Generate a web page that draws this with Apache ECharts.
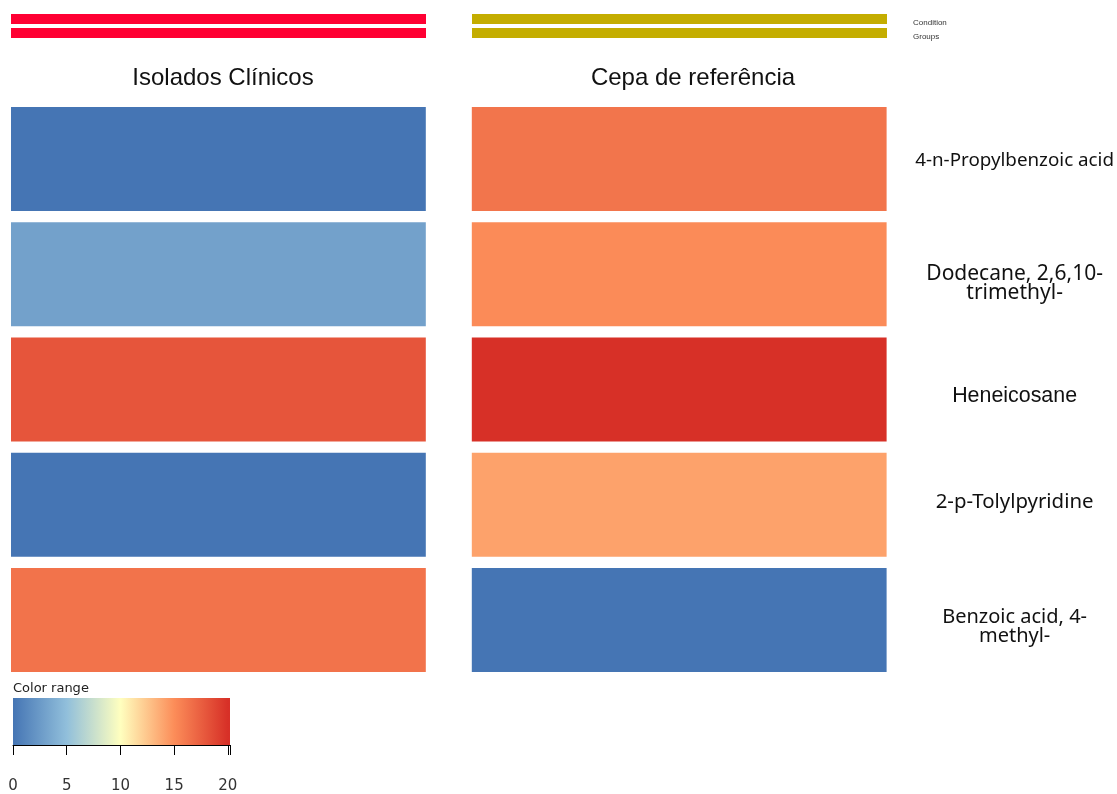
<!DOCTYPE html>
<html>
<head>
<meta charset="utf-8">
<script src="https://cdn.jsdelivr.net/npm/echarts@6/dist/echarts.min.js"></script>
<style>
  html, body { margin: 0; padding: 0; background: #fff; }
  #chart { width: 1117px; height: 794px; }
</style>
</head>
<body>
<div id="chart"></div>
<script>
// Column groups and compounds
const conditions = ['Isolados Clínicos', 'Cepa de referência'];
const compounds = [
  '4-n-Propylbenzoic acid',
  'Dodecane, 2,6,10-\ntrimethyl-',
  'Heneicosane',
  '2-p-Tolylpyridine',
  'Benzoic acid, 4-\nmethyl-'
];
// Heatmap values per column
const valuesIsolados = [0, 3, 18, 0, 16.4];
const valuesCepa = [16.3, 15.1, 20, 14.1, 0];

// Annotation tracks shown above the heatmap
const annotationRows = ['Condition', 'Groups'];
const annotationColors = ['#ff0033', '#c4ad00'];

// Colour scale
const scaleMin = 0;
const scaleMax = 20;
const legendMax = 20.2;
const legendTicks = [0, 5, 10, 15, 20];
const scaleColors = ['#4575b4', '#91bfdb', '#ffffbf', '#fc8d59', '#d73027'];

// Row label typography (size, family, vertical nudge in px)
const labelSizes = [18.8, 21, 21.4, 20.4, 20];
const labelFonts = ['Noto Sans', 'Noto Sans', 'Liberation Sans', 'Noto Sans', 'Noto Sans'];
const labelNudge = [2, 9, 7, -3, 7];

const heatData = [];
compounds.forEach((c, r) => {
  heatData.push([0, r, valuesIsolados[r]]);
  heatData.push([1, r, valuesCepa[r]]);
});
const annData = [];
annotationRows.forEach((a, r) => {
  conditions.forEach((c, i) => annData.push([i, r, i]));
});

// Rich styles: one text style per row plus a thin spacer line that shifts the block
const LINE_H = 19.5;
const rowRich = {};
compounds.forEach((c, i) => {
  rowRich['t' + i] = {
    fontSize: labelSizes[i], fontFamily: labelFonts[i], color: '#111', lineHeight: LINE_H
  };
  rowRich['s' + i] = {
    fontSize: 1, lineHeight: Math.max(1, 2 * Math.abs(labelNudge[i])), color: 'rgba(0,0,0,0)'
  };
});
function rowLabel(value, index) {
  const lines = value.split('\n').map(line => '{t' + index + '|' + line + '}');
  const spacer = '{s' + index + '| }';
  if (labelNudge[index] > 0) lines.unshift(spacer);
  else if (labelNudge[index] < 0) lines.push(spacer);
  return lines.join('\n');
}

const chart = echarts.init(document.getElementById('chart'), null, { renderer: 'canvas' });

const COL_GAP = 46;
const ROW_GAP = 11.2;
const nCols = conditions.length;

// Cell rectangle inside its band: outer cells flush with the grid edge, fixed gap between columns
function cellRect(api, rowGap) {
  const i = api.value(0);
  const c = api.coord([i, api.value(1)]);
  const s = api.size([1, 1]);
  const w = s[0] - COL_GAP * (nCols - 1) / nCols;
  const x = c[0] - s[0] / 2 + i * COL_GAP / nCols;
  const h = s[1] - rowGap;
  return { x: x, y: c[1] - h / 2, width: w, height: h };
}

const option = {
  animation: false,
  backgroundColor: '#ffffff',
  grid: [
    { left: 11, width: 876, top: 101.5, height: 576 },
    { left: 11, width: 876, top: 12, height: 28 },
    { left: 13, width: 217, top: 698, height: 47 }
  ],
  xAxis: [
    { gridIndex: 0, type: 'category', data: conditions, show: false },
    { gridIndex: 1, type: 'category', data: conditions, show: false },
    {
      gridIndex: 2, type: 'value', min: 0, max: legendMax, interval: 5,
      position: 'bottom',
      splitLine: { show: false },
      axisLine: { show: true, lineStyle: { color: '#000', width: 1 } },
      axisTick: { show: true, length: 10, lineStyle: { color: '#000' } },
      axisLabel: {
        margin: 34, color: '#333', fontSize: 15, fontFamily: 'DejaVu Sans',
        formatter: v => legendTicks.indexOf(v) >= 0 ? String(v) : ''
      }
    }
  ],
  yAxis: [
    {
      gridIndex: 0, type: 'category', data: compounds, inverse: true, position: 'right',
      axisLine: { show: false }, axisTick: { show: false },
      axisLabel: { margin: 128, align: 'center', formatter: rowLabel, rich: rowRich }
    },
    {
      gridIndex: 1, type: 'category', data: annotationRows, inverse: true, position: 'right',
      axisLine: { show: false }, axisTick: { show: false },
      axisLabel: { margin: 26, verticalAlign: 'top', color: '#333', fontSize: 8, fontFamily: 'Liberation Sans' }
    },
    { gridIndex: 2, type: 'value', min: 0, max: 1, show: false }
  ],
  visualMap: {
    show: false,
    type: 'continuous',
    seriesIndex: 0,
    dimension: 2,
    min: scaleMin,
    max: scaleMax,
    inRange: { color: scaleColors }
  },
  series: [
    {
      type: 'custom',
      xAxisIndex: 0, yAxisIndex: 0,
      data: heatData,
      encode: { x: 0, y: 1 },
      renderItem: function (params, api) {
        return { type: 'rect', shape: cellRect(api, ROW_GAP), style: { fill: api.visual('color') } };
      }
    },
    {
      type: 'custom',
      xAxisIndex: 1, yAxisIndex: 1,
      data: annData,
      encode: { x: 0, y: 1 },
      renderItem: function (params, api) {
        return { type: 'rect', shape: cellRect(api, 4), style: { fill: annotationColors[api.value(2)] } };
      }
    },
    {
      type: 'custom',
      xAxisIndex: 2, yAxisIndex: 2,
      data: [[scaleMin, legendMax]],
      renderItem: function (params, api) {
        const p0 = api.coord([api.value(0), 1]);
        const p1 = api.coord([api.value(1), 0]);
        const stops = scaleColors.map((col, i) => ({
          offset: Math.min(1, (i * (scaleMax - scaleMin) / (scaleColors.length - 1)) / legendMax),
          color: col
        }));
        return {
          type: 'rect',
          shape: { x: p0[0], y: p0[1], width: p1[0] - p0[0], height: p1[1] - p0[1] },
          style: { fill: new echarts.graphic.LinearGradient(0, 0, 1, 0, stops) }
        };
      }
    }
  ],
  graphic: [
    {
      type: 'text', x: 223, y: 78,
      style: { text: conditions[0], align: 'center', verticalAlign: 'middle',
               font: '24px "Liberation Sans"', fill: '#111' }
    },
    {
      type: 'text', x: 693, y: 78,
      style: { text: conditions[1], align: 'center', verticalAlign: 'middle',
               font: '24px "Liberation Sans"', fill: '#111' }
    },
    {
      type: 'text', x: 13, y: 689,
      style: { text: 'Color range', align: 'left', verticalAlign: 'middle',
               font: '13px "DejaVu Sans"', fill: '#222' }
    }
  ]
};

chart.setOption(option);
</script>
</body>
</html>
